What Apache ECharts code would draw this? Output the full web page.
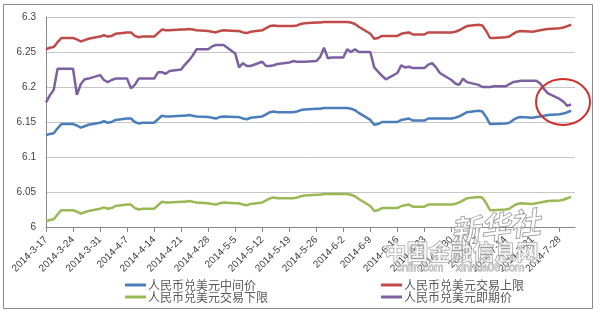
<!DOCTYPE html>
<html>
<head>
<meta charset="utf-8">
<script src="https://cdn.jsdelivr.net/npm/echarts@6/dist/echarts.min.js"></script>
<style>
html,body{margin:0;padding:0;background:#fff;}
#c{width:600px;height:315px;}
</style>
</head>
<body>
<div id="c"></div>
<script>
// Weekly tick labels (Mondays) shown on the date axis
const weekLabels = ['2014-3-17','2014-3-24','2014-3-31','2014-4-7','2014-4-14','2014-4-21','2014-4-28','2014-5-5','2014-5-12','2014-5-19','2014-5-26','2014-6-2','2014-6-9','2014-6-16','2014-6-23','2014-6-30','2014-7-7','2014-7-14','2014-7-21','2014-7-28'];
const axisStart = '2014-3-17';
const axisEnd = '2014-8-1';

const seriesNames = ['人民币兑美元中间价','人民币兑美元交易上限','人民币兑美元交易下限','人民币兑美元即期价'];

// Values per weekday (Mon-Fri), week by week, from 2014-3-17 to 2014-7-31
const midRate = [
6.131,6.133,6.134,6.141,6.147, 6.147,6.145,6.142,6.144,6.146, 6.149,6.151,6.149,6.150,6.153, 6.155,6.155,6.150,6.148,6.149,
6.149,6.154,6.159,6.158,6.158, 6.159,6.159,6.160,6.159,6.158, 6.157,6.156,6.155,6.157,6.158, 6.157,6.157,6.155,6.154,6.156,
6.158,6.161,6.164,6.165,6.164, 6.164,6.164,6.165,6.167,6.168, 6.169,6.169,6.170,6.170,6.170, 6.170,6.170,6.169,6.167,6.163,
6.153,6.146,6.147,6.150,6.150, 6.150,6.153,6.154,6.155,6.152, 6.152,6.155,6.155,6.155,6.155, 6.155,6.156,6.158,6.161,6.164,
6.166,6.165,6.157,6.147,6.147, 6.148,6.149,6.153,6.156,6.157, 6.156,6.157,6.158,6.159,6.160, 6.161,6.162,6.164,6.166];
const upperLimit = [
6.254,6.256,6.257,6.264,6.270, 6.270,6.268,6.265,6.267,6.269, 6.272,6.274,6.272,6.273,6.276, 6.278,6.278,6.273,6.271,6.272,
6.272,6.277,6.282,6.281,6.281, 6.282,6.282,6.283,6.282,6.281, 6.280,6.279,6.278,6.280,6.281, 6.280,6.280,6.278,6.277,6.279,
6.281,6.284,6.287,6.288,6.287, 6.287,6.287,6.288,6.290,6.291, 6.292,6.292,6.293,6.293,6.293, 6.293,6.293,6.292,6.290,6.286,
6.276,6.269,6.270,6.273,6.273, 6.273,6.276,6.277,6.278,6.275, 6.275,6.278,6.278,6.278,6.278, 6.278,6.279,6.281,6.284,6.287,
6.289,6.288,6.280,6.270,6.270, 6.271,6.272,6.276,6.279,6.280, 6.279,6.280,6.281,6.282,6.283, 6.284,6.285,6.287,6.289];
const lowerLimit = [
6.008,6.010,6.011,6.018,6.024, 6.024,6.022,6.019,6.021,6.023, 6.026,6.028,6.026,6.027,6.030, 6.032,6.032,6.027,6.025,6.026,
6.026,6.031,6.036,6.035,6.035, 6.036,6.036,6.037,6.036,6.035, 6.034,6.033,6.032,6.034,6.035, 6.034,6.034,6.032,6.031,6.033,
6.035,6.038,6.041,6.042,6.041, 6.041,6.041,6.042,6.044,6.045, 6.046,6.046,6.047,6.047,6.047, 6.047,6.047,6.046,6.044,6.040,
6.030,6.023,6.024,6.027,6.027, 6.027,6.030,6.031,6.032,6.029, 6.029,6.032,6.032,6.032,6.032, 6.032,6.033,6.035,6.038,6.041,
6.043,6.042,6.034,6.024,6.024, 6.025,6.026,6.030,6.033,6.034, 6.033,6.034,6.035,6.036,6.037, 6.038,6.039,6.041,6.043];
const spotRate = [
6.178,6.188,6.196,6.226,6.226, 6.226,6.189,6.204,6.211,6.212, 6.217,6.210,6.207,6.210,6.212, 6.212,6.198,6.203,6.212,6.212,
6.212,6.221,6.221,6.219,6.223, 6.225,6.232,6.238,6.245,6.254, 6.254,6.258,6.260,6.260,6.260, 6.248,6.228,6.234,6.230,6.230,
6.236,6.230,6.230,6.231,6.233, 6.235,6.237,6.236,6.236,6.236, 6.237,6.243,6.256,6.241,6.242, 6.242,6.254,6.250,6.254,6.250,
6.250,6.228,6.222,6.216,6.211, 6.220,6.231,6.228,6.229,6.227, 6.227,6.232,6.234,6.228,6.220, 6.210,6.205,6.203,6.212,6.207,
6.203,6.200,6.200,6.200,6.201, 6.201,6.204,6.207,6.208,6.209, 6.209,6.209,6.205,6.197,6.191, 6.183,6.179,6.173,6.175];

const yTicks = [6, 6.05, 6.1, 6.15, 6.2, 6.25, 6.3];
const colors = ['#4a7ebb','#be4b48','#98b954','#7d60a0'];

// Build daily calendar categories (date axis) and place weekday values on them
function parseD(s){const p=s.split('-').map(Number);return new Date(p[0],p[1]-1,p[2]);}
function fmt(d){return d.getFullYear()+'-'+(d.getMonth()+1)+'-'+d.getDate();}
const categories = [];
const weekdaySlot = []; // index into weekday arrays, or -1 for weekend
{
  const s = parseD(axisStart), e = parseD(axisEnd);
  let w = 0;
  for (let d = new Date(s); d <= e; d.setDate(d.getDate()+1)) {
    categories.push(fmt(d));
    const dow = d.getDay();
    if (dow >= 1 && dow <= 5) { weekdaySlot.push(w); w++; } else weekdaySlot.push(-1);
  }
}
function place(arr){
  return weekdaySlot.map(i => (i >= 0 && i < arr.length) ? arr[i] : null);
}
const allSeries = [midRate, upperLimit, lowerLimit, spotRate];

const chart = echarts.init(document.getElementById('c'), null, {renderer:'canvas'});
const baseFont = '"Liberation Sans", Arial, "Noto Sans CJK SC", sans-serif';
const legendText = {fontSize: 12, color: '#595959', fontFamily: '"Noto Sans CJK SC", sans-serif', padding: [0,0,0,-3]};
chart.setOption({
  animation: false,
  color: colors,
  textStyle: {fontFamily: baseFont},
  grid: {left: 46, right: 25, top: 17, bottom: 88, containLabel: false},
  xAxis: {
    type: 'category',
    data: categories,
    boundaryGap: false,
    axisLine: {lineStyle: {color: '#868686', width: 1}},
    axisTick: {show: true, length: 5, interval: (i, v) => weekLabels.includes(v), lineStyle: {color: '#868686'}},
    axisLabel: {
      interval: (i, v) => weekLabels.includes(v),
      rotate: 45, fontSize: 10, color: '#404040', margin: 11
    },
    splitLine: {show: false}
  },
  yAxis: {
    type: 'value',
    min: yTicks[0], max: yTicks[yTicks.length-1], interval: 0.05,
    axisLine: {show: true, lineStyle: {color: '#868686'}},
    axisTick: {show: false},
    axisLabel: {fontSize: 10, color: '#404040', margin: 10,
      formatter: v => String(+v.toFixed(2))},
    splitLine: {lineStyle: {color: '#c6c6c6', width: 1}}
  },
  legend: [
    {data: [seriesNames[0], seriesNames[2]], orient: 'vertical', left: 120, top: 274,
     itemGap: 0, itemWidth: 21, itemHeight: 3, icon: 'rect', textStyle: legendText},
    {data: [seriesNames[1], seriesNames[3]], orient: 'vertical', left: 376, top: 274,
     itemGap: 0, itemWidth: 21, itemHeight: 3, icon: 'rect', textStyle: legendText}
  ],
  graphic: [
    {type: 'rect', shape: {x: 3.5, y: 4.5, width: 589, height: 304}, style: {fill: 'none', stroke: '#8a8a8a', lineWidth: 1}, z: -1},
    {type: 'ellipse', shape: {cx: 563, cy: 102, rx: 27, ry: 23}, style: {fill: 'none', stroke: '#d42a2a', lineWidth: 2}, z: 10},
    {type: 'text', left: 448, top: 206, rotation: 0.12, style: {text: '新华社', font: 'italic bold 30px "Noto Sans CJK SC"', fill: 'rgba(255,255,255,0.5)', stroke: '#8a8a8a', lineWidth: 1}, z: 20},
    {type: 'text', left: 384, top: 240, style: {text: '中国金融信息网', font: 'bold 22px "Noto Sans CJK SC"', fill: 'rgba(255,255,255,0.55)', stroke: '#9a9a9a', lineWidth: 1}, z: 20},
    {type: 'text', left: 396, top: 262, style: {text: 'cnfin.com    xinhua08.com', font: '11px "Liberation Sans"', fill: 'rgba(255,255,255,0.6)', stroke: '#9a9a9a', lineWidth: 0.8}, z: 20}
  ],
  series: allSeries.map((arr, i) => ({
    name: seriesNames[i],
    type: 'line',
    data: place(arr),
    connectNulls: true,
    showSymbol: false,
    symbol: 'none',
    lineStyle: {width: 2.5, color: colors[i]},
    itemStyle: {color: colors[i]}
  }))
});
</script>
</body>
</html>
